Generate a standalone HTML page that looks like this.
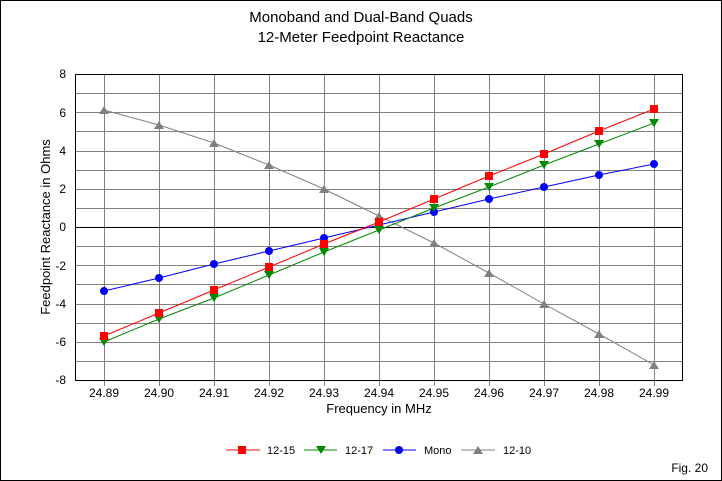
<!DOCTYPE html><html><head><style>body{margin:0;background:#fff}svg{display:block;font-family:"Liberation Sans",sans-serif}</style></head><body>
<svg id="s" width="722" height="481" xmlns="http://www.w3.org/2000/svg">
<rect x="0.5" y="0.5" width="721" height="480" fill="#fff" stroke="#000"/>
<text x="361" y="22" font-size="15" text-anchor="middle">Monoband and Dual-Band Quads</text>
<text x="361" y="42" font-size="15" text-anchor="middle">12-Meter Feedpoint Reactance</text>
<g id="grid" stroke="#808080" stroke-width="1"></g>
<rect x="75.5" y="74.5" width="607" height="306" fill="none" stroke="#000"/>
<line x1="75" y1="227.5" x2="682" y2="227.5" stroke="#000"/>
<g font-size="12" text-anchor="end">
<text x="66" y="78">8</text><text x="66" y="117">6</text><text x="66" y="155">4</text><text x="66" y="193">2</text><text x="66" y="231">0</text><text x="66" y="270">-2</text><text x="66" y="308">-4</text><text x="66" y="346">-6</text><text x="66" y="384">-8</text>
</g>
<g font-size="12" text-anchor="middle">
<text x="104" y="397">24.89</text><text x="159" y="397">24.90</text><text x="214" y="397">24.91</text><text x="269" y="397">24.92</text><text x="324" y="397">24.93</text><text x="379" y="397">24.94</text><text x="434" y="397">24.95</text><text x="489" y="397">24.96</text><text x="544" y="397">24.97</text><text x="599" y="397">24.98</text><text x="654" y="397">24.99</text>
</g>
<text x="379" y="413" font-size="13" text-anchor="middle">Frequency in MHz</text>
<text transform="translate(50,227) rotate(-90)" font-size="13" text-anchor="middle">Feedpoint Reactance in Ohms</text>
<g id="series"></g>
<g font-size="11">
<line x1="226" y1="450" x2="260" y2="450" stroke="#f00"/><rect x="238" y="446" width="8" height="8" fill="#f00"/><text x="267" y="454">12-15</text>
<line x1="304" y1="450" x2="337" y2="450" stroke="#080"/><polygon points="316,446 326,446 321,454" fill="#080"/><text x="345" y="454">12-17</text>
<line x1="383" y1="450" x2="416" y2="450" stroke="#00f"/><circle cx="399" cy="450" r="4" fill="#00f"/><text x="424" y="454">Mono</text>
<line x1="461" y1="450" x2="495" y2="450" stroke="#808080"/><polygon points="473,454 483,454 478,446" fill="#808080"/><text x="503" y="454">12-10</text>
</g>
<text x="708" y="472" font-size="12" text-anchor="end">Fig. 20</text>
</svg>
<script>
var NS="http://www.w3.org/2000/svg",g=document.getElementById("grid"),S=document.getElementById("series");
function el(p,t,a){var e=document.createElementNS(NS,t);for(var k in a)e.setAttribute(k,a[k]);p.appendChild(e);return e}
for(var v=-7;v<=7;v++){var y=Math.round(227-v*19.125)+.5;el(g,"line",{x1:75,x2:682,y1:y,y2:y})}
for(var i=0;i<11;i++){var x=104+55*i+.5;el(g,"line",{x1:x,x2:x,y1:74,y2:386})}
var D=[["#f00","sq",[336,313,290,267,244,222,199,176,154,131,109]],
["#080","tv",[342,319,298,275,252,230,208,187,165,144,123]],
["#00f","c",[291,278,264,251,238,225,212,199,187,175,164]],
["#808080","tu",[110,125,143,165,189,216,243,273,304,334,365]]];
D.reverse().forEach(function(d){var p=d[2].map(function(y,i){return (104+55*i)+","+y}).join(" ");
el(S,"polyline",{points:p,fill:"none",stroke:d[0]});
d[2].forEach(function(y,i){var x=104+55*i;
if(d[1]=="sq")el(S,"rect",{x:x-4,y:y-4,width:8,height:8,fill:d[0]});
else if(d[1]=="c")el(S,"circle",{cx:x,cy:y,r:4,fill:d[0]});
else if(d[1]=="tv")el(S,"polygon",{points:(x-5)+","+(y-4)+" "+(x+5)+","+(y-4)+" "+x+","+(y+4),fill:d[0]});
else el(S,"polygon",{points:(x-5)+","+(y+4)+" "+(x+5)+","+(y+4)+" "+x+","+(y-4),fill:d[0]});});});
</script>
</body></html>
